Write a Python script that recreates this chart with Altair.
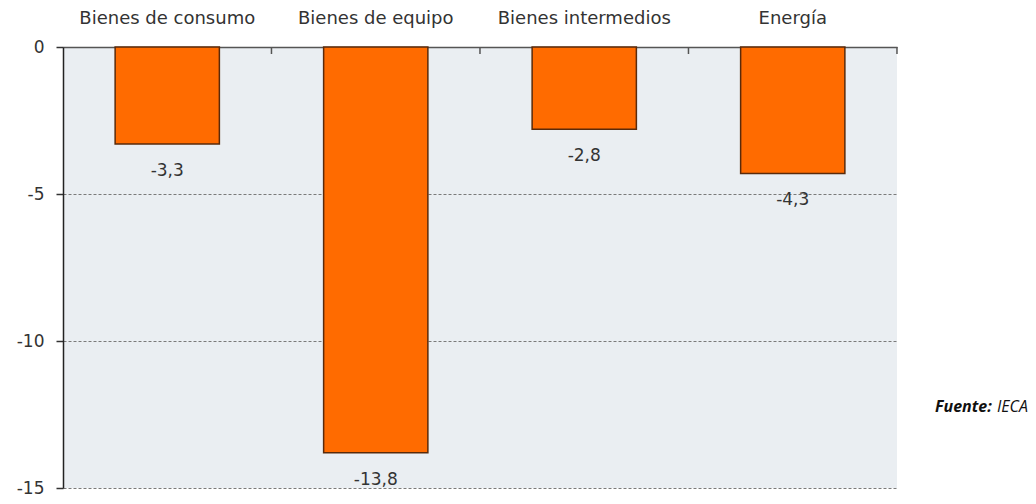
import altair as alt
import pandas as pd

categories = ["Bienes de consumo", "Bienes de equipo", "Bienes intermedios", "Energía"]
values = [-3.3, -13.8, -2.8, -4.3]
y_ticks = [0, -5, -10, -15]

df = pd.DataFrame({
    "cat": categories,
    "val": values,
    "lbl": [f"{v:.1f}".replace(".", ",") for v in values],
})

FONT = "DejaVu Sans"
TXT = "#333333"

xscale = alt.Scale(domain=categories, paddingInner=0.5, paddingOuter=0.25)
yscale = alt.Scale(domain=[-15, 0], nice=False, zero=False)

base = alt.Chart(df)

bars = base.mark_bar(color="#FF6B00", stroke="#5A2A0A", strokeWidth=1.5).encode(
    x=alt.X("cat:N", scale=xscale, sort=categories,
            axis=alt.Axis(orient="top", title=None, labelAngle=0, labelFont=FONT,
                          labelFontSize=18, labelColor=TXT, labelPadding=20,
                          ticks=False, domain=True, domainColor="#555555",
                          domainWidth=1.5, grid=False)),
    y=alt.Y("val:Q", scale=yscale,
            axis=alt.Axis(values=y_ticks, title=None, labelFont=FONT, labelFontSize=17,
                          labelExpr="'' + datum.value",
                          labelColor=TXT, labelPadding=12, tickSize=7, tickColor="#333333",
                          tickWidth=1.5, domainColor="#222222", domainWidth=1.5,
                          grid=True, gridColor="#7a7a7a", gridDash=[3, 2], gridWidth=1)),
    y2=alt.datum(0),
)

labels = base.mark_text(font=FONT, fontSize=17, color=TXT, baseline="middle", dy=27).encode(
    x=alt.X("cat:N", scale=xscale, sort=categories),
    y=alt.Y("val:Q", scale=yscale),
    text="lbl:N",
)

ticks = base.mark_rule(color="#555555", strokeWidth=1.5, xOffset=52.1).encode(
    x=alt.X("cat:N", scale=xscale, sort=categories, bandPosition=1),
    y=alt.value(0),
    y2=alt.value(7),
)

src1 = alt.Chart(pd.DataFrame({"t": ["Fuente:"]})).mark_text(
    font="Open Sans", fontSize=16, fontStyle="italic", fontWeight="bold",
    color="#111111", align="left", baseline="middle"
).encode(x=alt.value(872), y=alt.value(360), text="t:N")

src2 = alt.Chart(pd.DataFrame({"t": ["IECA"]})).mark_text(
    font="Open Sans", fontSize=16, fontStyle="italic",
    color="#111111", align="left", baseline="middle"
).encode(x=alt.value(934), y=alt.value(360), text="t:N")

chart = alt.layer(bars, labels, ticks, src1, src2).properties(
    width=834, height=441,
    background="white",
    autosize=alt.AutoSizeParams(type="none"),
    padding={"left": 55, "top": 39, "right": 131, "bottom": 8},
).configure_view(fill="#EAEEF2", strokeWidth=0)

chart.save("out.html", embed_options={"renderer": "svg", "actions": False})
